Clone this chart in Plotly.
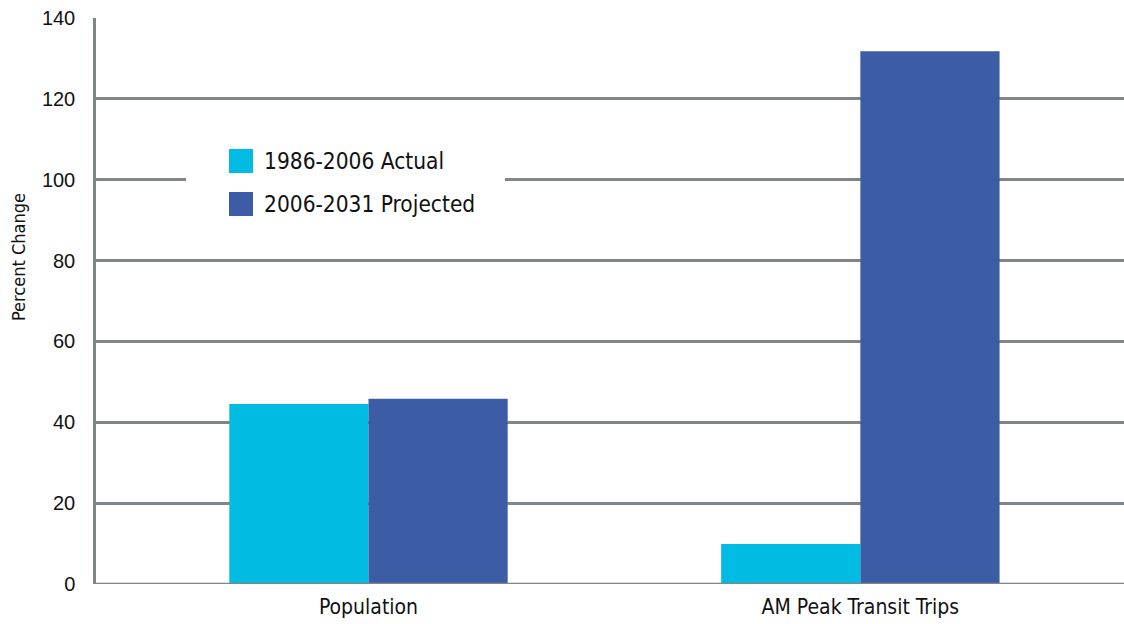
import plotly.graph_objects as go

# Percent change by measure
categories = ["Population", "AM Peak Transit Trips"]
series_names = ["1986-2006 Actual", "2006-2031 Projected"]
actual_values = [44.5, 9.9]
projected_values = [45.8, 131.8]
y_ticks = [0, 20, 40, 60, 80, 100, 120, 140]

colors = ["#00BCE3", "#3C5DA5"]
grid_color = "#7F8589"
narrow_font = "Liberation Sans Narrow, DejaVu Sans Condensed, Arial Narrow, sans-serif"

fig = go.Figure()
fig.add_trace(go.Bar(x=[0, 1], y=actual_values, name=series_names[0],
                     marker=dict(color=colors[0], line=dict(width=0))))
fig.add_trace(go.Bar(x=[0, 1], y=projected_values, name=series_names[1],
                     marker=dict(color=colors[1], line=dict(width=0))))

fig.update_layout(
    width=1124, height=624,
    margin=dict(l=96, r=0, t=18, b=40),
    paper_bgcolor="white", plot_bgcolor="white",
    barmode="group", bargap=0.434, bargroupgap=0,
    showlegend=False,
    xaxis=dict(
        range=[-0.554, 1.536],
        tickmode="array", tickvals=[0, 1], ticktext=categories,
        tickfont=dict(family=narrow_font, size=21, color="#111"),
        showgrid=False, zeroline=False, showline=False,
        ticks="", ticklabelstandoff=8,
    ),
    yaxis=dict(
        range=[0, 140],
        tickmode="array", tickvals=y_ticks,
        tickfont=dict(family="Liberation Sans, Arial, sans-serif", size=20, color="#111"),
        showgrid=True, gridcolor=grid_color, gridwidth=2.5,
        zeroline=False, showline=True, linecolor=grid_color, linewidth=2.5,
        ticks="", ticklabelstandoff=14,
    ),
)

# Bottom axis line drawn over the bars' base
fig.add_shape(type="line", xref="paper", yref="y", x0=0, x1=1, y0=0, y1=0,
              line=dict(color=grid_color, width=2.5), layer="above")

# Pixel helpers for placing the legend panel and axis title
def px_x(p):
    return (p - 96) / (1124 - 96)

def px_y(p):
    return 1 - (p - 18) / (584 - 18)

# Axis title
fig.add_annotation(xref="paper", yref="paper", x=px_x(18), y=px_y(257),
                   text="Percent Change", textangle=-90, showarrow=False,
                   xanchor="center", yanchor="middle",
                   font=dict(family=narrow_font, size=18, color="#111"))

# Legend panel: white box over the gridline, colour swatches and labels
fig.add_shape(type="rect", xref="paper", yref="paper",
              x0=px_x(186), x1=px_x(505), y0=px_y(232), y1=px_y(130),
              fillcolor="white", line=dict(width=0), layer="above")
swatch_rows = [(149, 173), (192, 216)]
for (top, bottom), name, col in zip(swatch_rows, series_names, colors):
    fig.add_shape(type="rect", xref="paper", yref="paper",
                  x0=px_x(229), x1=px_x(253), y0=px_y(bottom), y1=px_y(top),
                  fillcolor=col, line=dict(width=0), layer="above")
    fig.add_annotation(xref="paper", yref="paper", x=px_x(262), y=px_y((top + bottom) / 2),
                       text=name, showarrow=False, xanchor="left", yanchor="middle",
                       font=dict(family=narrow_font, size=22.5, color="#111"))

fig.write_html("out.html")
